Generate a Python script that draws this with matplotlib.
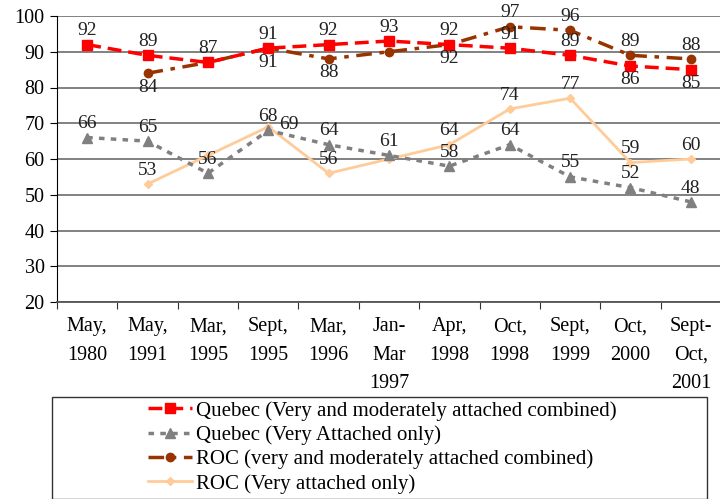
import matplotlib
matplotlib.use("Agg")
import matplotlib.pyplot as plt
from matplotlib.patches import Rectangle
import numpy as np

plt.rcParams['font.family'] = ['Liberation Serif', 'DejaVu Serif']

categories = ["May,\n1980", "May,\n1991", "Mar,\n1995", "Sept,\n1995", "Mar,\n1996",
              "Jan-\nMar\n1997", "Apr,\n1998", "Oct,\n1998", "Sept,\n1999", "Oct,\n2000",
              "Sept-\nOct,\n2001"]

quebec_combined = [92, 89, 87, 91, 92, 93, 92, 91, 89, 86, 85]
quebec_very = [66, 65, 56, 68, 64, 61, 58, 64, 55, 52, 48]
roc_combined = [np.nan, 84, 87, 91, 88, 90, 92, 97, 96, 89, 88]
roc_very = [np.nan, 53, 61, 69, 56, 60, 64, 74, 77, 59, 60]

series_names = ["Quebec (Very and moderately attached combined)",
                "Quebec (Very Attached only)",
                "ROC (very and moderately attached combined)",
                "ROC (Very attached only)"]

# label placement: 'a' above, 'b' below, 'r' right, '' none
pos_qc = ['a', 'a', 'a', 'a', 'a', 'a', 'b', 'a', 'a', 'b', 'b']
pos_qv = ['a', 'a', 'a', 'a', 'a', 'a', 'a', 'a', 'a', 'a', 'a']
pos_rc = ['', 'b', '', 'b', 'b', '', 'a', 'a', 'a', 'a', 'a']
pos_rv = ['', 'a', '', 'r', 'a', '', 'a', 'a', 'a', 'a', 'a']

fig = plt.figure(figsize=(7.2, 4.99), dpi=100)
ax = fig.add_axes([57/720, 1 - 302/499, 664/720, 286/499])

x = np.arange(len(categories))

styles = [
    dict(color='#FF0000', lw=2.5, dashes=(4, 2), marker='s', ms=7.5, zorder=5),
    dict(color='#808080', lw=2.5, dashes=(1.6, 1.8), marker='^', ms=7, zorder=3),
    dict(color='#993300', lw=2.5, dashes=(4.5, 2.2, 1.3, 2.2), marker='o', ms=6, zorder=4),
    dict(color='#FFCC99', lw=2.0, linestyle='-', marker='D', ms=4.5, zorder=2),
]
data = [quebec_combined, quebec_very, roc_combined, roc_very]
positions = [pos_qc, pos_qv, pos_rc, pos_rv]

handles = []
for vals, st, name in zip(data, styles, series_names):
    h, = ax.plot(x, vals, label=name, **st)
    handles.append(h)

for vals, pos in zip(data, positions):
    for xi, v, p in zip(x, vals, pos):
        if p == '' or np.isnan(v):
            continue
        if p == 'a':
            off = (0, 10)
        elif p == 'b':
            off = (0, -10)
        else:
            off = (15, 2)
        ax.annotate(f"{int(v)}", (xi, v), xytext=off, textcoords='offset points',
                    ha='center', va='center', fontsize=14, color='#222222', zorder=10)

ax.set_xlim(-0.5, len(categories) - 0.5)
ax.set_ylim(20, 100)
ax.set_yticks(range(20, 101, 10))
ax.set_xticks(np.arange(-0.5, len(categories), 1.0))
ax.set_xticklabels([])
ax.set_xticks(x, minor=True)
ax.set_xticklabels(categories, minor=True, fontsize=14.5, linespacing=1.67, va='top')
ax.tick_params(axis='x', which='minor', length=0, pad=11)
ax.tick_params(axis='x', which='major', length=5, direction='out', color='#333333')
ax.tick_params(axis='y', length=5, direction='out', labelsize=14.5, pad=4)

ax.yaxis.grid(True, color='#777777', lw=1.3)
ax.set_axisbelow(True)
for s in ['top', 'right']:
    ax.spines[s].set_visible(False)
ax.spines['left'].set_color('black')
ax.spines['bottom'].set_color('#555555')
ax.spines['bottom'].set_linewidth(1.3)

# legend frame
rect = Rectangle((52/720, 0), (707-52)/720, 1 - 397/499, transform=fig.transFigure,
                 fill=False, edgecolor='#333333', lw=1.0)
fig.patches.append(rect)
fig.legend(handles=handles, loc='upper left', bbox_to_anchor=(148/720, 1 - 401/499),
           frameon=False, fontsize=15, handlelength=2.1, handletextpad=0.2,
           labelspacing=0.22, borderaxespad=0, borderpad=0)

fig.savefig("out.png", dpi=100)
